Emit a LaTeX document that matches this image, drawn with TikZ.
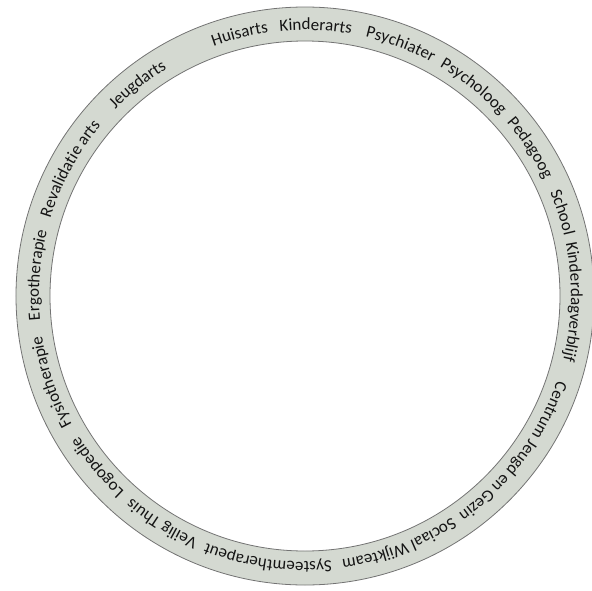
\documentclass[tikz,border=0pt]{standalone}
\usepackage{fontspec}
\newfontfamily\ringfont{Carlito}
\definecolor{ringgray}{rgb}{0.83,0.85,0.82}
\definecolor{edgegray}{gray}{0.45}
\definecolor{labelgray}{gray}{0.08}
\newcommand\ringstyle{\ringfont\fontsize{17}{20}\selectfont\color{labelgray}}
\usetikzlibrary{decorations.text}

\begin{document}
\begin{tikzpicture}[x=1pt,y=1pt]
  \useasboundingbox (-305,-294) rectangle (287,296);
  % ring
  \fill[ringgray,even odd rule] (0,0) circle[radius=289] (0,0) circle[radius=255];
  \draw[edgegray,line width=0.8pt] (0,0) circle[radius=289];
  \draw[edgegray,line width=0.8pt] (0,0) circle[radius=255];
  % labels, clockwise, each from its start angle
  \foreach \ang/\lbl in {110.1/Huisarts, 95.4/Kinderarts, 76.9/Psychiater, 59.6/Psycholoog,
      40.7/Pedagoog, 22.9/School, 11.4/Kinderdagverblijf, -18.6/Centrum Jeugd en Gezin,
      -56.5/Sociaal Wijkteam, -84.3/Systeemtherapeut, -113.7/Veilig Thuis, -132.8/Logopedie,
      -151.2/Fysiotherapie, -174.8/Ergotherapie, -196.9/Revalidatie arts, -224.5/Jeugdarts}
    \path[decorate,decoration={text along path,text/.expanded={|\noexpand\ringstyle|\lbl}}]
      (\ang:266) arc[start angle=\ang,delta angle=-80,radius=266];
\end{tikzpicture}
\end{document}
